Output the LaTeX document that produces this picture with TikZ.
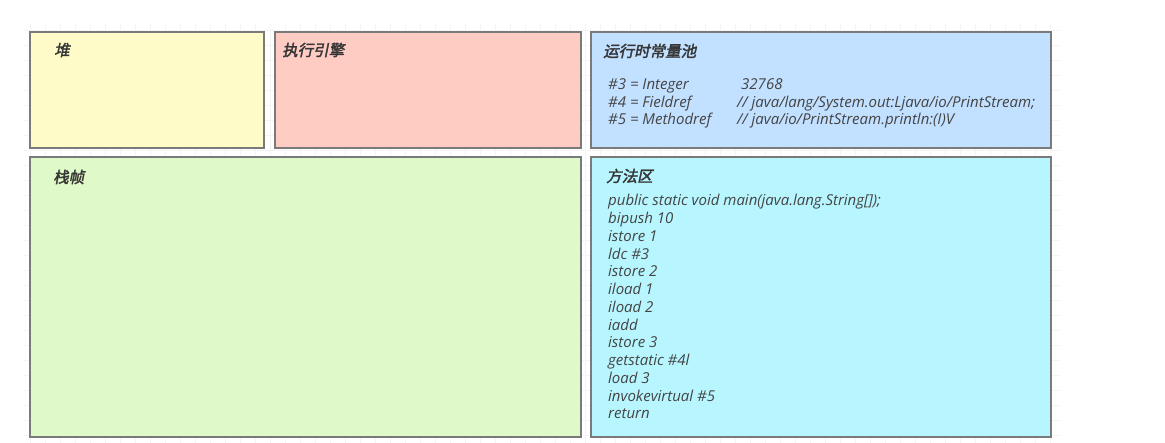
\documentclass[tikz,border=0pt]{standalone}
\usepackage{fontspec}
\setmainfont{Open Sans}
\newfontfamily\cjkhead[FakeSlant=0.2,FakeBold=2.2]{Noto Sans CJK SC}
\newfontfamily\entext{Open Sans}
\definecolor{heapc}{HTML}{FFFBC8}
\definecolor{enginec}{HTML}{FFCCC4}
\definecolor{poolc}{HTML}{C2E0FF}
\definecolor{stackc}{HTML}{E0F9C8}
\definecolor{methodc}{HTML}{B8F6FF}
\definecolor{edgec}{HTML}{7A7A7A}
\definecolor{textc}{HTML}{444444}
\definecolor{gridc}{HTML}{F4F4F4}
\tikzset{
  area/.style={draw=edgec, line width=1.3pt, inner sep=0pt},
  head/.style={anchor=west, inner sep=0pt, text=textc!80!black, font=\cjkhead\fontsize{15.5}{17}\selectfont},
  code/.style={anchor=base west, inner sep=0pt, text=textc, font=\entext\itshape\fontsize{15}{16}\selectfont},
}
\begin{document}
\begin{tikzpicture}[x=1pt,y=-1pt]
\useasboundingbox (0,0) rectangle (1165,443);
\fill[white] (0,0) rectangle (1165,443);
\draw[gridc, line width=0.5pt, step=15pt] (23,24) grid (1060,443);
% boxes
\path[area, fill=heapc]   (30,32)  rectangle (264,148) node[pos=0] (heap) {};
\path[area, fill=enginec] (275,32) rectangle (581,148) node[pos=0] (engine) {};
\path[area, fill=poolc]   (591,32) rectangle (1051,148) node[pos=0] (pool) {};
\path[area, fill=stackc]  (30,157) rectangle (581,437) node[pos=0] (stack) {};
\path[area, fill=methodc] (591,157) rectangle (1051,437) node[pos=0] (method) {};
% headings
\node[head] (heapT)   at (54,50)   {堆};
\node[head] (engineT) at (282,50)  {执行引擎};
\node[head] (poolT)   at (603,51)  {运行时常量池};
\node[head] (stackT)  at (53,177)  {栈帧};
\node[head] (methodT) at (606,176) {方法区};
% constant pool
\node[code] (p3a) at (608,90)  {\#3 = Integer};
\node[code] (p3b) at (741,90)  {32768};
\node[code] (p4a) at (608,108) {\#4 = Fieldref};
\node[code] (p4b) at (737,108) {// java/lang/System.out:Ljava/io/PrintStream;};
\node[code] (p5a) at (608,125) {\#5 = Methodref};
\node[code] (p5b) at (737,125) {// java/io/PrintStream.println:(I)V};
% method area
\node[code] (m1)  at (608,206) {public static void main(java.lang.String[]);};
\node[code] (m2)  at (608,224) {bipush 10};
\node[code] (m3)  at (608,241.5) {istore 1};
\node[code] (m4)  at (608,259.3) {ldc \#3};
\node[code] (m5)  at (608,277) {istore 2};
\node[code] (m6)  at (608,294.8) {iload 1};
\node[code] (m7)  at (608,312.5) {iload 2};
\node[code] (m8)  at (608,330.3) {iadd};
\node[code] (m9)  at (608,348) {istore 3};
\node[code] (m10) at (608,365.8) {getstatic \#4l};
\node[code] (m11) at (608,383.5) {load 3};
\node[code] (m12) at (608,401.3) {invokevirtual \#5};
\node[code] (m13) at (608,419) {return};
\end{tikzpicture}
\end{document}
